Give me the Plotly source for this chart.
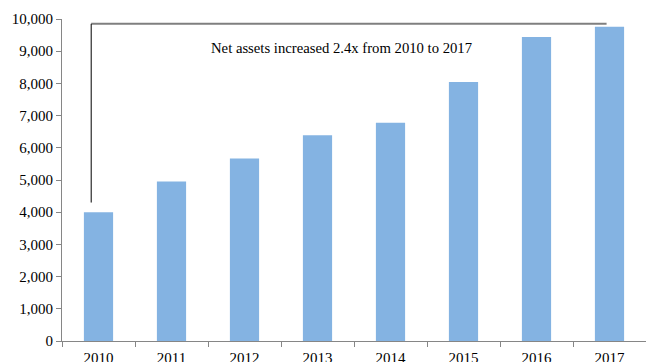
import plotly.graph_objects as go

years = ["2010", "2011", "2012", "2013", "2014", "2015", "2016", "2017"]
net_assets = [4000, 4950, 5670, 6390, 6780, 8040, 9440, 9760]
y_ticks = [0, 1000, 2000, 3000, 4000, 5000, 6000, 7000, 8000, 9000, 10000]
y_tick_labels = [f"{v:,}" for v in y_ticks]
note_text = "Net assets increased 2.4x from 2010 to 2017"
bracket_y = 9850
bracket_bottom = 4300

font_family = "Liberation Serif, Times New Roman, serif"

fig = go.Figure()
fig.add_trace(go.Bar(
    x=list(range(len(years))),
    y=net_assets,
    marker=dict(color="#84B3E2", line=dict(width=0)),
    width=0.4,
    hoverinfo="skip",
))

fig.add_shape(type="line", xref="x", yref="y",
              x0=-0.1, x1=6.96, y0=bracket_y, y1=bracket_y,
              line=dict(color="#7F7F7F", width=2))
fig.add_shape(type="line", xref="x", yref="y",
              x0=-0.1, x1=-0.1, y0=bracket_y, y1=bracket_bottom,
              line=dict(color="#000000", width=1))

fig.add_annotation(x=3.33, y=9100, xref="x", yref="y", text=note_text,
                   showarrow=False, font=dict(family=font_family, size=14.7, color="#000000"))

fig.update_layout(
    width=646, height=362,
    margin=dict(l=62, r=0, t=19, b=21, autoexpand=False),
    paper_bgcolor="white", plot_bgcolor="white",
    showlegend=False,
    font=dict(family=font_family, size=15, color="#000000"),
    xaxis=dict(
        range=[-0.5, 7.5], automargin=False,
        tickmode="array", tickvals=list(range(len(years))), ticktext=years,
        showgrid=False, zeroline=False,
        showline=True, linecolor="#868686", linewidth=1,
        ticks="", ticklabelstandoff=3,
    ),
    yaxis=dict(
        range=[0, 10000], automargin=False,
        tickmode="array", tickvals=y_ticks, ticktext=y_tick_labels,
        showgrid=False, zeroline=False,
        showline=True, linecolor="#868686", linewidth=1,
        ticks="outside", ticklen=5, tickcolor="#868686",
    ),
)

# category boundary ticks on x axis
fig.update_layout(xaxis2=dict(
    overlaying="x", range=[-0.5, 7.5], side="bottom", automargin=False,
    tickmode="array", tickvals=[i + 0.5 for i in range(-1, 8)], ticktext=[""] * 9,
    ticks="outside", ticklen=5, tickcolor="#868686",
    showgrid=False, zeroline=False, showline=False,
))
fig.add_trace(go.Scatter(x=[None], y=[None], xaxis="x2", showlegend=False, hoverinfo="skip"))

fig.write_html("out.html")
